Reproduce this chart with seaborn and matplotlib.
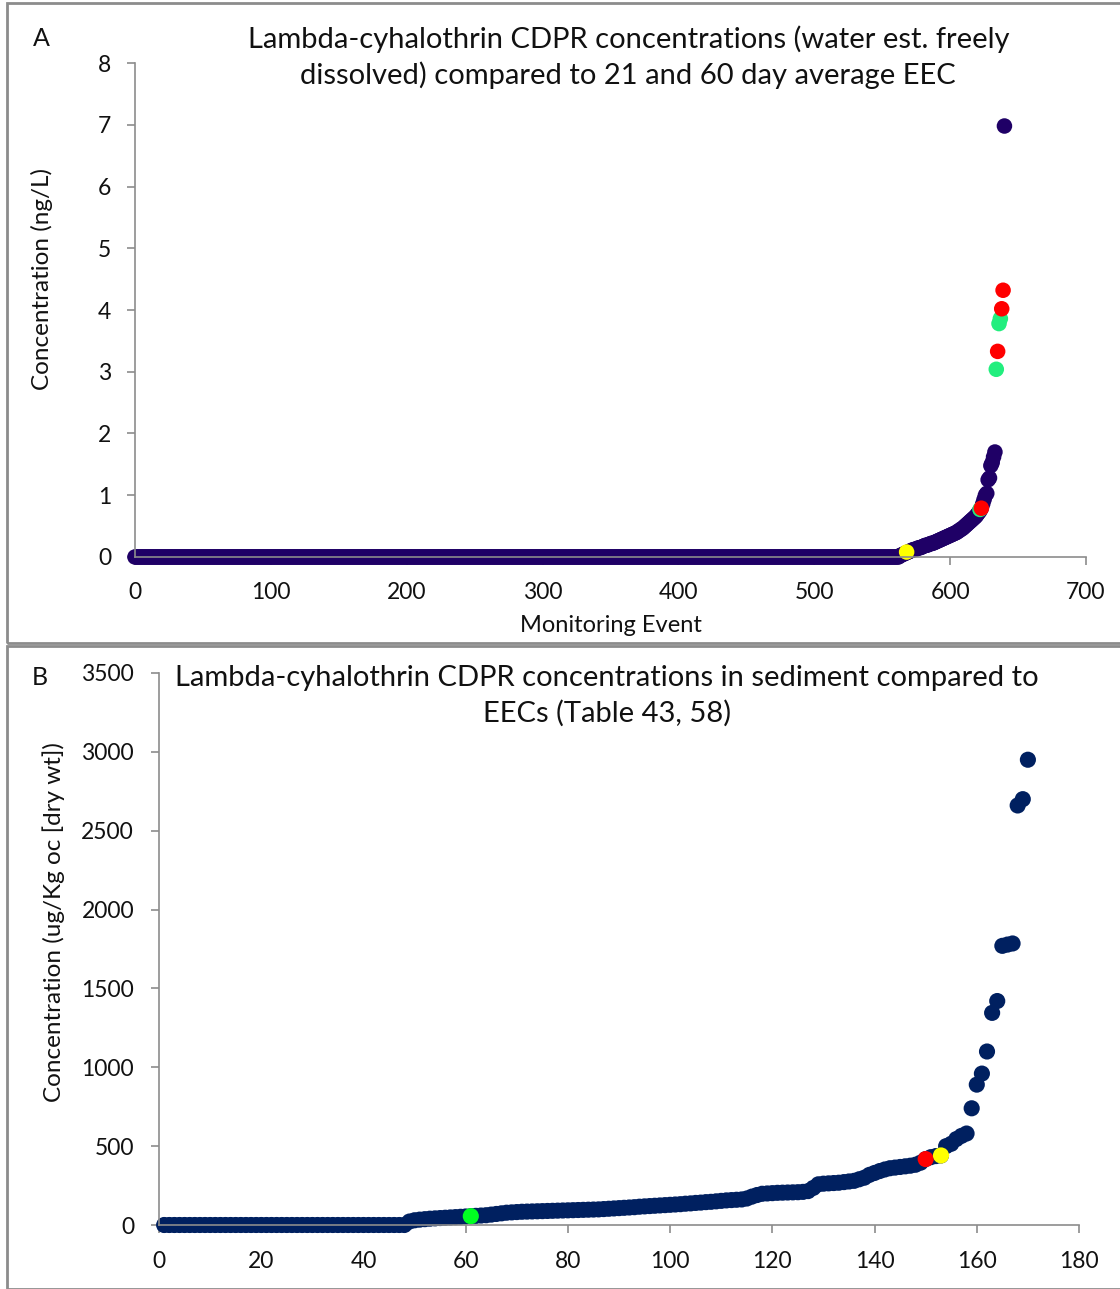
import numpy as np
import pandas as pd
import matplotlib
matplotlib.use("Agg")
import matplotlib.pyplot as plt
from matplotlib.patches import Rectangle
import seaborn as sns

# ---------------------------------------------------------------------------
# Data, panel A (water, ng/L)
a_zero_count = 563          # monitoring events 0..562 are all 0
a_rise = [0.02, 0.03, 0.04, 0.05, 0.06, 0.07, 0.08, 0.09, 0.10, 0.11,
          0.12, 0.12, 0.13, 0.14, 0.15, 0.15, 0.16, 0.17, 0.18, 0.19,
          0.19, 0.20, 0.21, 0.22, 0.22, 0.23, 0.24, 0.25, 0.26, 0.27,
          0.28, 0.29, 0.30, 0.31, 0.32, 0.33, 0.34, 0.35, 0.36, 0.37,
          0.38, 0.39, 0.40, 0.42, 0.43, 0.45, 0.46, 0.48, 0.50, 0.52,
          0.54, 0.56, 0.58, 0.60, 0.62, 0.64, 0.66, 0.69, 0.72, 0.75,
          0.79, 0.86, 0.93, 1.00, 1.03, 1.25, 1.28, 1.48, 1.53, 1.62,
          1.70]
a_max_x = [640]
a_max_y = [6.98]
a_green_x = [622, 634, 636, 637]
a_green_y = [0.77, 3.04, 3.78, 3.86]
a_red_x = [623, 635, 638, 639]
a_red_y = [0.79, 3.33, 4.02, 4.32]
a_yellow_x = [568]
a_yellow_y = [0.08]

# Data, panel B (sediment, ug/Kg oc)
b_zero_count = 48           # samples 1..48 are all 0
b_rise = [22, 30, 34, 37, 40, 42, 44, 46, 48, 50,
          52, 54, 56, 58, 60, 62, 66, 70, 74, 78,
          80, 82, 84, 85, 86, 87, 88, 89, 90, 91,
          92, 93, 94, 95, 96, 97, 98, 99, 101, 103,
          105, 107, 109, 111, 113, 116, 118, 120, 122, 124,
          126, 128, 130, 132, 135, 137, 140, 142, 145, 147,
          150, 153, 156, 158, 160, 162, 168, 180, 190, 198,
          200, 202, 204, 205, 206, 207, 208, 210, 215, 235,
          258, 262, 264, 266, 268, 272, 276, 280, 290, 300,
          318, 330, 342, 352, 360, 364, 368, 372, 376, 382,
          395, 418, 430, 437, 441, 500, 515, 545, 565, 580,
          740, 890, 960, 1100, 1345, 1420, 1770, 1778, 1785, 2660,
          2700, 2950]
b_green_x = [61]
b_green_y = [56]
b_red_x = [150]
b_red_y = [418]
b_yellow_x = [153]
b_yellow_y = [441]
# ---------------------------------------------------------------------------

FONT = "Lato"
GRAY = "#8c8c8c"
TXT = "#111111"


def build(groups):
    frames = []
    for name, xs, ys in groups:
        frames.append(pd.DataFrame({"x": xs, "y": ys, "series": name}))
    return pd.concat(frames, ignore_index=True)


a_y = [0.0] * a_zero_count + a_rise
a_df = build([
    ("data", list(range(len(a_y))) + a_max_x, a_y + a_max_y),
    ("green", a_green_x, a_green_y),
    ("red", a_red_x, a_red_y),
    ("yellow", a_yellow_x, a_yellow_y),
])

b_y = [0.0] * b_zero_count + b_rise
b_df = build([
    ("data", list(range(1, len(b_y) + 1)), b_y),
    ("green", b_green_x, b_green_y),
    ("red", b_red_x, b_red_y),
    ("yellow", b_yellow_x, b_yellow_y),
])

sns.set_theme(style="white")
plt.rcParams["font.family"] = [FONT, "DejaVu Sans"]

fig = plt.figure(figsize=(11.2, 12.89), dpi=100)

# panel frames
for y0, h in [(0.5012, 0.4961), (0.0, 0.4985)]:
    fig.patches.append(Rectangle((0.006, y0), 1.2, h, transform=fig.transFigure,
                                 fill=False, edgecolor=GRAY, lw=2))


def style(ax):
    sns.despine(ax=ax)
    for s in ["left", "bottom"]:
        ax.spines[s].set_color(GRAY)
        ax.spines[s].set_linewidth(1.2)
    ax.tick_params(axis="both", direction="out", length=6, width=1.2,
                   color=GRAY, labelsize=16.5, labelcolor=TXT,
                   bottom=True, left=True)
    ax.set_facecolor("white")


# Panel A
axA = fig.add_axes([0.1205, 0.5679, 0.8491, 0.3832])
sns.scatterplot(data=a_df, x="x", y="y", hue="series", ax=axA, s=125,
                linewidth=0, legend=False, clip_on=False,
                palette={"data": "#1f0066", "green": "#22ee7e",
                         "red": "#ff0000", "yellow": "#ffff00"})
axA.set_xlim(0, 700)
axA.set_ylim(0, 8)
axA.set_xticks(range(0, 701, 100))
axA.set_yticks(range(0, 9))
style(axA)
axA.tick_params(axis="x", pad=12)
axA.tick_params(axis="y", pad=11)
axA.set_xlabel("Monitoring Event", fontsize=17, color=TXT, labelpad=9)
axA.set_ylabel("Concentration (ng/L)", fontsize=17.5, color=TXT)
axA.yaxis.set_label_coords(-0.086, 0.563)
fig.text(0.561, 0.9555, "Lambda-cyhalothrin CDPR concentrations (water est. freely\n"
         "dissolved) compared to 21 and 60 day average EEC",
         ha="center", va="center", fontsize=21, linespacing=1.4, color=TXT)
fig.text(0.029, 0.9705, "A", fontsize=18, va="center", color=TXT)

# Panel B
axB = fig.add_axes([0.142, 0.04965, 0.8214, 0.42825])
sns.scatterplot(data=b_df, x="x", y="y", hue="series", ax=axB, s=135,
                linewidth=0, legend=False, clip_on=False,
                palette={"data": "#002060", "green": "#00ff22",
                         "red": "#ff0000", "yellow": "#ffff00"})
axB.set_xlim(0, 180)
axB.set_ylim(0, 3500)
axB.set_xticks(range(0, 181, 20))
axB.set_yticks(range(0, 3501, 500))
style(axB)
axB.tick_params(axis="x", pad=13)
axB.tick_params(axis="y", pad=12)
axB.set_xlabel("")
axB.set_ylabel("Concentration (ug/Kg oc [dry wt])", fontsize=17.5, color=TXT)
axB.yaxis.set_label_coords(-0.102, 0.549)
fig.text(0.542, 0.46, "Lambda-cyhalothrin CDPR concentrations in sediment compared to\n"
         "EECs (Table 43, 58)",
         ha="center", va="center", fontsize=21, linespacing=1.4, color=TXT)
fig.text(0.028, 0.4745, "B", fontsize=18, va="center", color=TXT)

fig.savefig("out.png", dpi=100)
